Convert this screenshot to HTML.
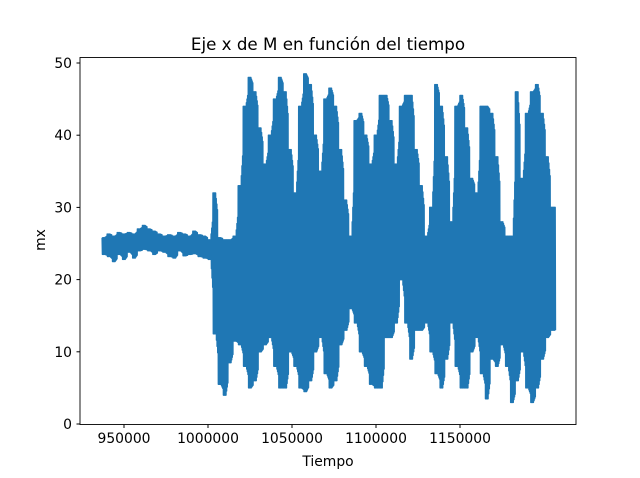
<!DOCTYPE html>
<html><head><meta charset="utf-8"><style>
body{margin:0;background:#fff}
svg{display:block;font-family:"DejaVu Sans","Liberation Sans",sans-serif}
</style></head><body>
<svg id="chart" width="640" height="478" viewBox="0 0 640 478" xmlns="http://www.w3.org/2000/svg">
<rect width="640" height="478" fill="#fff"/>
<text x="328" y="50" text-anchor="middle" font-size="16.7">Eje x de M en función del tiempo</text>
<g id="xticks"></g>
<g id="yticks"></g>
<path id="series" fill="none" stroke="#1f77b4" stroke-width="1.5" stroke-linejoin="round"/>
<rect x="80" y="57.5" width="496" height="367" fill="none" stroke="#000" stroke-width="0.9"/>
<text x="328" y="466" text-anchor="middle" font-size="13.9">Tiempo</text>
<text x="0" y="0" transform="translate(45,240) rotate(-90)" text-anchor="middle" font-size="13.9">mx</text>
</svg>
<script>
const startTime = 937000;
const binWidth = 3000;
const hiValues = [25.8,26.3,26.0,26.5,26.3,26.5,26.3,27.0,27.5,27.0,26.7,26.3,26.0,26.2,26.0,26.5,26.3,26.0,26.7,26.2,26.0,25.5,32.0,25.8,25.5,25.5,26.0,33,44,48,46,41,36,40,45,48,46,38,32,44,48.5,47,40,35,45,46.5,44,38,31,26,42,43,40,36,40,45.5,45.5,42,36,44,45.5,45.5,38,33,26,30,47,44,37,28,44,45.5,41,34,32,44,44,43,37,28,26,26,46,34,43,46,47,43,37,30];
const loValues = [23.5,23.2,22.5,23.5,22.8,23.8,23.0,24.0,24.2,24.0,23.5,24.0,23.8,23.2,23.0,24.0,23.3,23.5,23.6,23.2,23.0,22.8,12.5,5.5,4.0,8.5,11.5,11,8,5,6,10,11,12,8,5,5,10,8,5,4.5,6,10,12,7,5,6,11,13,16,14,10,8,5.5,5,5,12,12,14,20,14,9,13,13,14,10,7,5,9,14,8,5,5,10,12,7,3.5,9,8,11,8,3,6,10,5,3,5,9,12,13];
const xTicks = [950000,1000000,1050000,1100000,1150000];
const yTicks = [0,10,20,30,40,50];

const X = t => 124 + (t - 950000) * 84 / 50000;
const Y = v => 424 - v * 7.22;
const NS = "http://www.w3.org/2000/svg";

const xg = document.getElementById('xticks');
xTicks.forEach(t => {
  const l = document.createElementNS(NS,'line');
  l.setAttribute('x1',X(t));l.setAttribute('x2',X(t));l.setAttribute('y1',424.5);l.setAttribute('y2',428);l.setAttribute('stroke','#000');
  
  
  xg.appendChild(l);
  const tx = document.createElementNS(NS,'text');
  tx.setAttribute('x',X(t));tx.setAttribute('y',443);tx.setAttribute('text-anchor','middle');tx.setAttribute('font-size','13.9');
  tx.textContent = t;
  
  
  xg.appendChild(tx);
});
const yg = document.getElementById('yticks');
yTicks.forEach(v => {
  const l = document.createElementNS(NS,'line');
  l.setAttribute('x1',76.5);l.setAttribute('x2',80);l.setAttribute('y1',Y(v));l.setAttribute('y2',Y(v));l.setAttribute('stroke','#000');
  
  
  yg.appendChild(l);
  const tx = document.createElementNS(NS,'text');
  tx.setAttribute('x',72);tx.setAttribute('y',Y(v)+5);tx.setAttribute('text-anchor','end');tx.setAttribute('font-size','13.9');
  tx.textContent = v;
  
  
  yg.appendChild(tx);
});

let d = '';
const zig = 8;
hiValues.forEach((hi, i) => {
  const lo = loValues[i];
  const hiN = i + 1 < hiValues.length ? hiValues[i + 1] : hi;
  const loN = i + 1 < loValues.length ? loValues[i + 1] : lo;
  const t0 = startTime + i * binWidth;
  for (let k = 0; k < zig; k++) {
    const f = k / zig;
    const h = k < zig / 2 ? hi : hi + (hiN - hi) * (f - 0.5);
    const w = k < zig / 2 ? lo : lo + (loN - lo) * (f - 0.5);
    const ta = t0 + binWidth * k / zig;
    const tb = t0 + binWidth * (k + 0.5) / zig;
    d += (d ? 'L' : 'M') + X(ta).toFixed(2) + ',' + Y(h).toFixed(2) + 'L' + X(tb).toFixed(2) + ',' + Y(w).toFixed(2);
  }
});
document.getElementById('series').setAttribute('d', d);
</script>
</body></html>
